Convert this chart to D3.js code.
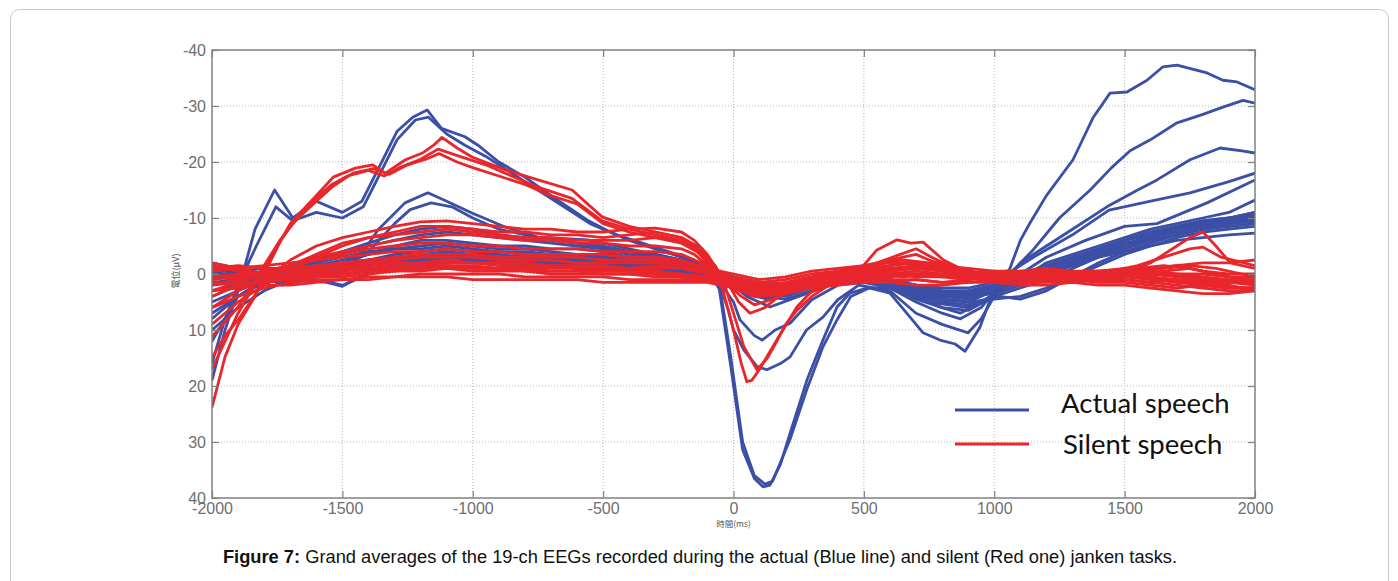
<!DOCTYPE html>
<html>
<head>
<meta charset="utf-8">
<script src="https://cdn.jsdelivr.net/npm/d3@7"></script>
<style>
  body { margin: 0; background: #fff; }
  svg { display: block; }
</style>
</head>
<body>
<svg id="chart" width="1398" height="581"></svg>
<script>
// tick values
const xTicks = [-2000, -1500, -1000, -500, 0, 500, 1000, 1500, 2000]
const yTicks = [-40, -30, -20, -10, 0, 10, 20, 30, 40]

// 19 channels, actual speech (blue) - [time ms, potential uV]
const actual = [
  [[-2000,19],[-1950,10],[-1900,3],[-1835,-8],[-1760,-15],[-1690,-10],[-1600,-13],[-1500,-11],[-1425,-13],[-1360,-19],[-1290,-25.5],[-1230,-28],[-1175,-29.3],[-1120,-26],[-1030,-24.5],[-980,-23],[-900,-20],[-800,-17.3],[-690,-13.7],[-560,-9.6],[-490,-7.9],[-400,-6],[-300,-4.5],[-200,-3],[-100,-1.5],[-60,1],[-10,16.6],[35,31.4],[80,36.5],[113,38],[140,37.7],[180,34],[217,28.4],[282,18.9],[343,11.8],[397,5.9],[447,3.4],[512,2.5],[600,2.5],[700,5],[800,7],[870,8],[950,6],[1020,2],[1060,-1],[1100,-6],[1137,-9.1],[1200,-14],[1302,-20.4],[1380,-28],[1444,-32.3],[1509,-32.5],[1586,-34.6],[1647,-37],[1701,-37.3],[1816,-35.9],[1877,-34.6],[1931,-34.3],[2000,-32.9]],
  [[-2000,16],[-1950,8],[-1900,2],[-1830,-5],[-1755,-12],[-1690,-9.5],[-1600,-11],[-1500,-10],[-1420,-12],[-1360,-17.5],[-1290,-24],[-1220,-27.5],[-1170,-28],[-1100,-25],[-1030,-23],[-950,-21],[-850,-18],[-750,-15],[-650,-12],[-550,-9],[-450,-7],[-350,-5.5],[-250,-4],[-150,-2.5],[-90,0],[-50,3],[-10,15],[35,30],[80,36],[120,37.5],[150,37],[217,29.5],[282,20.5],[343,13],[397,8.2],[450,4],[520,2.5],[600,3.4],[677,7.7],[727,10.5],[792,11.8],[850,12.5],[888,13.8],[945,9.5],[984,4.6],[1040,1],[1080,-1],[1149,-4.3],[1250,-10],[1368,-15],[1450,-19],[1521,-22],[1600,-24],[1701,-27],[1800,-28.5],[1877,-29.8],[1954,-31],[2000,-30.5]],
  [[-2000,12],[-1950,8],[-1900,4],[-1800,1],[-1700,0],[-1600,-1],[-1480,-2],[-1420,-4],[-1363,-7.9],[-1260,-12.7],[-1172,-14.5],[-1100,-13],[-1003,-10.9],[-876,-8.4],[-750,-6.6],[-558,-6.1],[-400,-4.5],[-250,-3],[-100,-1.5],[-60,1],[-20,6.4],[0,10],[40,13.6],[90,16.5],[128,17.1],[180,16],[217,14.8],[280,10],[343,7.7],[400,4.6],[480,2],[600,3],[700,7],[800,9],[900,10.5],[950,8],[1000,4],[1050,1],[1100,-2],[1200,-5],[1300,-8],[1432,-12],[1550,-15],[1624,-16.8],[1751,-20.4],[1866,-22.5],[1950,-22],[2000,-21.6]],
  [[-2000,8],[-1900,4],[-1800,1],[-1700,-0.5],[-1600,-1],[-1480,-1.5],[-1400,-4],[-1300,-9],[-1240,-11.5],[-1160,-12.7],[-1080,-12],[-1000,-10],[-900,-8],[-750,-6.5],[-600,-5.5],[-450,-4.5],[-300,-3],[-150,-1.5],[-60,1],[0,5],[25,8.2],[80,11],[110,11.8],[160,10],[217,8.8],[300,4.6],[400,2],[500,1.5],[600,2],[750,5],[900,6],[1000,4],[1050,0],[1150,-3],[1300,-7],[1440,-11.4],[1600,-13],[1751,-14.5],[1900,-16.5],[2000,-18]],
  [[-2000,5],[-1900,3],[-1800,1],[-1700,-1],[-1600,-2.5],[-1500,-4],[-1400,-5.5],[-1300,-7],[-1200,-8],[-1100,-8.5],[-1000,-8],[-900,-7],[-800,-6.5],[-700,-6],[-600,-5.5],[-500,-5],[-400,-4],[-300,-3.5],[-200,-2.5],[-100,-1],[-50,0],[50,4],[140,5.9],[250,4],[400,1.5],[500,1],[600,2],[700,3.5],[800,4],[900,4],[1000,2],[1100,0],[1200,-3],[1350,-6],[1500,-8.5],[1624,-9],[1816,-12.7],[2000,-16.8]],
  [[-2000,2],[-1900,1.5],[-1800,0],[-1700,-1],[-1600,-2],[-1500,-3.5],[-1400,-5],[-1300,-6],[-1200,-7],[-1100,-7.5],[-1000,-7],[-900,-6.5],[-800,-6],[-700,-5.5],[-600,-5],[-500,-4.5],[-400,-3.5],[-300,-3],[-200,-2],[-100,-0.5],[-40,1],[40,3.5],[130,4.5],[250,3],[400,1],[500,0.5],[600,1.5],[700,4],[800,6],[870,7],[950,5],[1050,2],[1100,1],[1200,-2],[1400,-5],[1600,-8],[1800,-10],[1900,-11],[2000,-13.2]],
  [[-2000,-1],[-1900,0],[-1800,1],[-1700,0],[-1600,-1],[-1500,-2],[-1400,-3.5],[-1300,-5],[-1200,-6],[-1100,-6],[-1000,-5.5],[-900,-5],[-800,-5],[-700,-4.5],[-600,-4.5],[-500,-4],[-400,-3],[-300,-2.5],[-200,-1.5],[-100,0],[-30,1],[50,3],[150,3.5],[300,2],[450,0.5],[600,1.5],[700,3],[800,4.5],[900,5],[1000,3],[1100,1],[1200,-1],[1300,-2.5],[1400,-4],[1500,-6],[1600,-7.5],[1700,-8.5],[1800,-9.5],[1900,-10],[2000,-11]],
  [[-2000,3],[-1900,2],[-1800,0.5],[-1700,-0.5],[-1600,-1.5],[-1500,-2.5],[-1400,-3.5],[-1300,-4.5],[-1200,-5],[-1100,-5.5],[-1000,-5],[-900,-4.5],[-800,-4.5],[-700,-4],[-600,-3.5],[-500,-3.5],[-400,-3],[-300,-2],[-200,-1],[-100,0],[0,1],[80,2.5],[200,3],[350,1.5],[500,1],[600,2],[700,3.5],[800,5],[900,4],[1000,3],[1100,1.5],[1200,0],[1300,-2],[1400,-3.5],[1500,-5],[1600,-7],[1700,-8.5],[1800,-9.5],[1900,-10],[2000,-10.5]],
  [[-2000,7],[-1900,4],[-1800,1.5],[-1700,0],[-1600,-0.5],[-1500,-1.5],[-1400,-2.5],[-1300,-3.5],[-1200,-4],[-1100,-4.5],[-1000,-4],[-900,-4],[-800,-3.5],[-700,-3.5],[-600,-3],[-500,-3],[-400,-2.5],[-300,-2],[-200,-1],[-100,0],[0,1.5],[100,2],[250,2.5],[400,1],[550,1.5],[700,3],[850,4],[950,3],[1050,2],[1150,0],[1250,-1.5],[1350,-3],[1450,-4.5],[1550,-6],[1650,-7.5],[1750,-8.5],[1850,-9],[1950,-9.5],[2000,-10]],
  [[-2000,1],[-1900,0],[-1800,1],[-1700,1.5],[-1600,1],[-1500,2],[-1450,1],[-1400,-0.5],[-1300,-1.5],[-1200,-2.5],[-1100,-3],[-1000,-3],[-900,-2.5],[-800,-2.5],[-700,-2],[-600,-2],[-500,-1.5],[-400,-1.5],[-300,-1],[-200,0],[-100,0.5],[0,1],[100,2],[200,2],[300,1.5],[400,0.5],[500,0.5],[600,1],[700,2.5],[800,3.5],[900,3],[1000,2],[1100,1],[1200,-0.5],[1300,-2],[1400,-3.5],[1500,-5],[1600,-6.5],[1700,-7.5],[1800,-8.5],[1900,-9],[2000,-9.5]],
  [[-2000,-1],[-1900,-0.5],[-1800,0.5],[-1730,2],[-1650,1],[-1560,1.5],[-1500,2.2],[-1450,1],[-1400,0],[-1300,-1],[-1200,-2],[-1100,-2],[-1000,-2.5],[-900,-2],[-800,-2],[-700,-1.5],[-600,-1.5],[-500,-1],[-400,-1],[-300,-0.5],[-200,0],[-100,1],[0,2],[100,4],[200,4.5],[300,3],[400,1.5],[500,1],[600,2],[700,4.5],[800,6],[900,6.5],[960,5],[1020,4],[1100,4.5],[1200,3],[1300,0.5],[1400,-2],[1500,-4],[1600,-5.5],[1700,-7],[1800,-8],[1900,-9],[2000,-10]],
  [[-2000,4],[-1900,2],[-1800,0],[-1700,-1],[-1600,-1],[-1500,-1.5],[-1400,-2],[-1300,-2.5],[-1200,-3.5],[-1100,-4],[-1000,-3.5],[-900,-3.5],[-800,-3],[-700,-3],[-600,-3],[-500,-2.5],[-400,-2],[-300,-1.5],[-200,-1],[-100,0],[0,1.5],[100,3],[200,3.5],[300,2],[400,1],[500,1],[600,1.5],[700,2],[800,3],[900,3.5],[1000,2.5],[1100,1],[1200,-1],[1300,-3],[1400,-4.5],[1500,-6],[1600,-7.5],[1700,-8.5],[1800,-9],[1900,-10],[2000,-11]],
  [[-2000,0],[-1900,1],[-1800,1.5],[-1700,1],[-1600,0],[-1500,-0.5],[-1400,-1.5],[-1300,-2],[-1200,-2.5],[-1100,-2.5],[-1000,-2],[-900,-2],[-800,-1.5],[-700,-1.5],[-600,-1],[-500,-1],[-400,-0.5],[-300,0],[-200,0.5],[-100,1],[0,1.5],[100,2.5],[200,2.5],[300,1.5],[400,1],[500,1.5],[600,2.5],[700,4],[800,5],[900,5.5],[1000,4],[1100,2.5],[1200,1],[1300,-1],[1400,-3],[1500,-4.5],[1600,-6],[1700,-7],[1800,-8],[1900,-8.5],[2000,-9]],
  [[-2000,2],[-1900,0.5],[-1800,-0.5],[-1700,-1.5],[-1600,-2],[-1500,-3],[-1400,-4],[-1300,-4.5],[-1200,-4.5],[-1100,-5],[-1000,-4.5],[-900,-4],[-800,-4],[-700,-3.5],[-600,-3.5],[-500,-3],[-400,-2.5],[-300,-2],[-200,-1.5],[-100,-0.5],[0,0.5],[100,1.5],[200,2],[300,1.5],[400,0.5],[500,0],[600,1],[700,2],[800,2.5],[900,2.5],[1000,1.5],[1100,0],[1200,-1.5],[1300,-3],[1400,-4.5],[1500,-6],[1600,-7],[1700,-8],[1800,-9],[1900,-9.5],[2000,-10]],
  [[-2000,-2],[-1900,-1],[-1800,0],[-1700,0.5],[-1600,0],[-1500,-1],[-1400,-1.5],[-1300,-2],[-1200,-3],[-1100,-3.5],[-1000,-3.5],[-900,-3],[-800,-3],[-700,-2.5],[-600,-2.5],[-500,-2],[-400,-2],[-300,-1.5],[-200,-1],[-100,0],[0,1],[100,2.5],[200,3],[300,2],[400,1],[500,0.5],[600,1],[700,2],[800,3.5],[900,4],[1000,3.5],[1100,2],[1200,0],[1300,-1.5],[1400,-3],[1500,-4],[1600,-5],[1700,-6],[1800,-6.5],[1900,-7],[2000,-7.3]],
  [[-2000,1.5],[-1900,1],[-1800,0],[-1700,-0.5],[-1600,-1],[-1500,-1.5],[-1400,-2.5],[-1300,-3],[-1200,-3],[-1100,-3.5],[-1000,-3],[-900,-3],[-800,-2.5],[-700,-2.5],[-600,-2],[-500,-2],[-400,-1.5],[-300,-1],[-200,-0.5],[-100,0.5],[0,2],[100,3.5],[200,4],[300,2.5],[400,1.5],[500,1],[600,2],[700,3],[800,4],[900,4.5],[1000,3],[1100,1.5],[1200,-0.5],[1300,-2],[1400,-3.5],[1500,-5],[1600,-6.5],[1700,-8],[1800,-9],[1900,-9.5],[2000,-10.5]],
  [[-2000,0.5],[-1900,-0.5],[-1800,-1],[-1700,-1],[-1600,-1.5],[-1500,-2],[-1400,-2.5],[-1300,-3],[-1200,-3.5],[-1100,-3.5],[-1000,-3.5],[-900,-3],[-800,-3],[-700,-3],[-600,-2.5],[-500,-2.5],[-400,-2],[-300,-1.5],[-200,-1],[-100,0],[0,1],[100,2],[200,2],[300,1.5],[400,0.5],[500,0.5],[600,1.5],[700,2.5],[800,3.5],[900,3.5],[1000,2.5],[1100,1],[1200,-1],[1300,-2.5],[1400,-4],[1500,-5.5],[1600,-6.5],[1700,-7.5],[1800,-8.5],[1900,-9],[2000,-9.5]],
  [[-2000,10],[-1900,6],[-1800,3],[-1700,1],[-1600,0.5],[-1500,0],[-1400,-0.5],[-1300,-1],[-1200,-1.5],[-1100,-2],[-1000,-2],[-900,-2],[-800,-1.5],[-700,-1.5],[-600,-1.5],[-500,-1],[-400,-1],[-300,-0.5],[-200,0],[-100,0.5],[0,2],[100,3],[200,3],[300,2],[400,1],[500,1],[600,2.5],[700,3.5],[800,4.5],[900,5],[1000,4.5],[1100,4],[1200,2.5],[1300,0.5],[1400,-1.5],[1500,-3.5],[1600,-5],[1700,-6.5],[1800,-7.5],[1900,-8],[2000,-8.5]],
  [[-2000,-0.5],[-1900,0.5],[-1800,1],[-1700,0.5],[-1600,-0.5],[-1500,-1],[-1400,-2],[-1300,-2.5],[-1200,-2.5],[-1100,-3],[-1000,-2.5],[-900,-2.5],[-800,-2],[-700,-2],[-600,-2],[-500,-1.5],[-400,-1.5],[-300,-1],[-200,-0.5],[-100,0],[0,1.5],[100,3],[200,3],[300,2],[400,1],[500,1],[600,1.5],[700,2.5],[800,3],[900,3],[1000,2],[1100,1],[1200,-0.5],[1300,-2],[1400,-3.5],[1500,-5],[1600,-6],[1700,-7],[1800,-8],[1900,-8.5],[2000,-9]]
]

// 19 channels, silent speech (red)
const silent = [
  [[-2000,23.8],[-1950,14.8],[-1900,9],[-1835,4],[-1800,0],[-1735,-6.1],[-1700,-9],[-1640,-12],[-1580,-15],[-1535,-17.3],[-1450,-18.9],[-1385,-19.5],[-1335,-18],[-1258,-20.4],[-1193,-21.6],[-1150,-23],[-1118,-24.4],[-1060,-22.5],[-1003,-20.9],[-876,-18.6],[-750,-16.8],[-619,-15],[-504,-10.2],[-400,-8.5],[-300,-7.5],[-200,-6.5],[-120,-4.5],[-80,-1],[-40,3],[0,10],[30,16],[51,19.2],[70,19],[100,17],[166,11.8],[243,5.9],[293,3.4],[350,2],[450,1],[550,0],[650,0.5],[750,0],[850,0.5],[950,0],[1050,-0.5],[1150,0],[1250,-0.5],[1350,0.5],[1450,0],[1550,0.5],[1650,1],[1750,1.5],[1850,2],[1950,2.5],[2000,2.5]],
  [[-2000,17],[-1950,12],[-1900,7],[-1850,3],[-1800,-1],[-1750,-5],[-1700,-8.5],[-1650,-11],[-1600,-13.5],[-1540,-16],[-1480,-17.5],[-1400,-18.5],[-1340,-17.5],[-1280,-19],[-1200,-20.5],[-1133,-22.3],[-1050,-21],[-950,-19.5],[-876,-18],[-750,-15.5],[-620,-13.5],[-504,-9.5],[-400,-8],[-300,-7],[-200,-6],[-120,-4],[-70,-1.5],[-40,1],[0,7],[40,13],[90,17.1],[130,15],[166,12],[200,9],[243,6.5],[300,4],[400,1],[480,-0.5],[550,-4.3],[627,-6.1],[680,-5.5],[727,-5.7],[805,-2.5],[870,-1],[950,0],[1050,0.5],[1150,0],[1250,0.5],[1350,0],[1450,-0.5],[1550,-1],[1650,-1.5],[1750,-1],[1850,0],[1950,1],[2000,1.5]],
  [[-2000,11.2],[-1900,5.9],[-1800,-1.5],[-1740,-6],[-1680,-9.5],[-1600,-13],[-1540,-15.5],[-1460,-18],[-1380,-18.8],[-1320,-17.8],[-1250,-19.5],[-1180,-20.5],[-1130,-21.5],[-1060,-20],[-1000,-19],[-900,-17.5],[-800,-16],[-700,-14],[-600,-12.5],[-500,-9],[-400,-7.5],[-300,-6.5],[-200,-5.5],[-120,-3.5],[-70,-1],[-30,1],[20,5],[63,7],[120,6],[200,3],[300,1],[400,0],[450,0],[550,-2],[640,-3.5],[700,-4.5],[760,-3],[850,-1],[950,0],[1050,0],[1150,0.5],[1250,0],[1350,-0.5],[1450,-0.5],[1550,-1],[1600,-2],[1700,-5],[1750,-6.5],[1800,-7.5],[1850,-5],[1905,-2],[2000,-1]],
  [[-2000,15],[-1950,11],[-1900,8.2],[-1823,2.9],[-1780,0.5],[-1700,-2.5],[-1600,-5],[-1500,-6.5],[-1400,-7.5],[-1300,-8.5],[-1200,-9.3],[-1100,-9.5],[-1000,-9],[-900,-8.5],[-800,-8],[-700,-8],[-600,-7.5],[-500,-7.5],[-400,-8],[-300,-8.2],[-200,-7.5],[-150,-6],[-100,-3.5],[-60,-0.5],[-20,2],[30,4],[80,5.5],[150,4.5],[250,2.5],[350,1],[450,0],[550,-1.5],[600,-2.5],[650,-3],[700,-3.5],[750,-2.5],[850,-1],[950,0],[1050,0],[1150,0],[1250,0.5],[1350,0],[1450,-0.5],[1550,-1.5],[1650,-3],[1750,-4.5],[1800,-4.8],[1870,-3],[2000,-1.5]],
  [[-2000,9],[-1900,5],[-1800,2],[-1700,-0.5],[-1600,-3],[-1500,-5],[-1400,-6.5],[-1300,-7.5],[-1200,-8.5],[-1100,-8.5],[-1000,-8],[-900,-7.5],[-800,-7.5],[-700,-7],[-600,-7],[-500,-6.5],[-400,-7],[-300,-7.5],[-200,-6.5],[-150,-5],[-100,-2.5],[-60,0],[0,2.5],[60,3.5],[150,3],[250,1.5],[350,0.5],[450,-0.5],[550,-1],[650,-2],[750,-1.5],[850,-0.5],[950,0],[1050,-0.5],[1150,0],[1250,0],[1350,0.5],[1450,0],[1550,0],[1650,-0.5],[1750,-1],[1850,0],[1950,1],[2000,1]],
  [[-2000,6],[-1900,3],[-1800,1],[-1700,-1.5],[-1600,-3.5],[-1500,-5.5],[-1400,-6.5],[-1300,-7],[-1200,-7.5],[-1100,-8],[-1000,-7.5],[-900,-7],[-800,-6.5],[-700,-6.5],[-600,-6],[-500,-6],[-400,-6],[-300,-6.5],[-200,-6],[-150,-4.5],[-100,-2],[-50,0],[0,2],[80,3],[150,2.5],[250,1],[350,0],[450,-1],[550,-2],[650,-2.5],[750,-2],[850,-1],[950,0],[1050,0.5],[1150,0],[1250,-0.5],[1350,0],[1450,0.5],[1550,0],[1650,0],[1750,0.5],[1850,1],[1950,1.5],[2000,2]],
  [[-2000,3],[-1900,1.5],[-1800,0],[-1700,-1.5],[-1600,-3],[-1500,-4],[-1400,-5],[-1300,-6],[-1200,-6.5],[-1100,-7],[-1000,-7],[-900,-6.5],[-800,-6],[-700,-6],[-600,-5.5],[-500,-5.5],[-400,-5],[-300,-5],[-200,-4.5],[-150,-3.5],[-100,-1.5],[-50,0.5],[0,2.5],[80,4],[150,3.5],[250,2],[350,1],[450,0],[550,-0.5],[650,-1],[750,-1],[850,0],[950,0.5],[1050,0],[1150,-0.5],[1250,0],[1350,0.5],[1450,0],[1550,-0.5],[1650,-1],[1750,-1.5],[1850,-1],[1950,0],[2000,0.5]],
  [[-2000,1],[-1900,0.5],[-1800,-0.5],[-1700,-1.5],[-1600,-2.5],[-1500,-3.5],[-1400,-4.5],[-1300,-5],[-1200,-5.5],[-1100,-5.5],[-1000,-5],[-900,-5],[-800,-4.5],[-700,-4.5],[-600,-4.5],[-500,-4],[-400,-4],[-300,-4],[-200,-3.5],[-100,-1.5],[-50,0],[0,1.5],[100,2.5],[200,2],[300,1],[400,0],[500,-0.5],[600,-1],[700,-1.5],[800,-1],[900,0],[1000,0],[1100,0.5],[1200,0],[1300,-0.5],[1400,0],[1500,0.5],[1600,0],[1700,0.5],[1800,1],[1900,1.5],[2000,2]],
  [[-2000,4],[-1900,2],[-1800,1],[-1700,0],[-1600,-1],[-1500,-1.5],[-1400,-2],[-1300,-2.5],[-1200,-3],[-1100,-3],[-1000,-3],[-900,-2.5],[-800,-2.5],[-700,-2.5],[-600,-2],[-500,-2],[-400,-2],[-300,-2],[-200,-1.5],[-100,-0.5],[0,1],[100,2],[200,1.5],[300,0.5],[400,0],[500,-0.5],[600,-0.5],[700,-1],[800,-0.5],[900,0],[1000,0.5],[1100,0],[1200,0],[1300,0.5],[1400,0],[1500,-0.5],[1600,0],[1700,0],[1800,0.5],[1900,1],[2000,1]],
  [[-2000,-1],[-1900,-1.5],[-1800,-1],[-1700,-0.5],[-1600,-1],[-1500,-1.5],[-1400,-1.5],[-1300,-2],[-1200,-2],[-1100,-2.5],[-1000,-2],[-900,-2],[-800,-2],[-700,-1.5],[-600,-1.5],[-500,-1.5],[-400,-1],[-300,-1],[-200,-1],[-100,0],[0,1.5],[100,3],[200,2.5],[300,1.5],[400,0.5],[500,0],[600,0],[700,-0.5],[800,0],[900,0.5],[1000,0],[1100,-0.5],[1200,0],[1300,0],[1400,0.5],[1500,0],[1600,0.5],[1700,1],[1800,1],[1900,1.5],[2000,1.5]],
  [[-2000,0.5],[-1900,0],[-1800,0.5],[-1700,1],[-1600,0.5],[-1500,0],[-1400,-0.5],[-1300,-1],[-1200,-1],[-1100,-1.5],[-1000,-1.5],[-900,-1],[-800,-1],[-700,-1],[-600,-1],[-500,-0.5],[-400,-0.5],[-300,-0.5],[-200,0],[-100,0.5],[0,2],[100,3.5],[200,3],[300,2],[400,1],[500,0.5],[600,0.5],[700,0],[800,0.5],[900,1],[1000,0.5],[1100,0],[1200,0.5],[1300,1],[1400,0.5],[1500,0],[1600,0.5],[1700,1.5],[1800,2],[1900,2.5],[2000,2.5]],
  [[-2000,2],[-1900,1],[-1800,-0.5],[-1700,-1],[-1600,-1.5],[-1500,-2],[-1400,-2.5],[-1300,-3],[-1200,-3.5],[-1100,-3.5],[-1000,-3.5],[-900,-3],[-800,-3],[-700,-3],[-600,-3],[-500,-2.5],[-400,-2.5],[-300,-2.5],[-200,-2],[-100,-1],[0,0.5],[100,1.5],[200,1],[300,0],[400,-0.5],[500,-1],[600,-1.5],[700,-2],[800,-1],[900,-0.5],[1000,0],[1100,0],[1200,-0.5],[1300,0],[1400,0],[1500,-0.5],[1600,-0.5],[1700,0],[1800,0],[1900,0.5],[2000,0.5]],
  [[-2000,-2],[-1900,-1],[-1800,0],[-1700,0.5],[-1600,0],[-1500,-0.5],[-1400,-1],[-1300,-1.5],[-1200,-1.5],[-1100,-2],[-1000,-2],[-900,-1.5],[-800,-1.5],[-700,-1.5],[-600,-1],[-500,-1],[-400,-1],[-300,-1.5],[-200,-1],[-100,-0.5],[0,1],[100,2],[200,2],[300,1],[400,0.5],[500,0],[600,0],[700,0.5],[800,0.5],[900,0],[1000,-0.5],[1100,0],[1200,0.5],[1300,0.5],[1400,1],[1500,0.5],[1600,1],[1700,1.5],[1800,1.5],[1900,2],[2000,3]],
  [[-2000,1.5],[-1900,2],[-1800,1.5],[-1700,1],[-1600,0.5],[-1500,0.5],[-1400,0],[-1300,-0.5],[-1200,-0.5],[-1100,-1],[-1000,-0.5],[-900,-0.5],[-800,-0.5],[-700,0],[-600,0],[-500,0],[-400,0],[-300,0.5],[-200,0.5],[-100,0.5],[0,1.5],[100,2.5],[200,2],[300,1.5],[400,1],[500,0.5],[600,1],[700,1],[800,1.5],[900,1],[1000,0.5],[1100,1],[1200,1],[1300,1.5],[1400,1],[1500,1],[1600,1.5],[1700,2],[1800,2.5],[1900,3],[2000,3]],
  [[-2000,-0.5],[-1900,-1],[-1800,-1.5],[-1700,-2],[-1600,-2.5],[-1500,-3],[-1400,-3.5],[-1300,-4],[-1200,-4],[-1100,-4.5],[-1000,-4],[-900,-4],[-800,-3.5],[-700,-3.5],[-600,-3.5],[-500,-3.5],[-400,-3],[-300,-3],[-200,-2.5],[-100,-1],[0,0],[100,1],[200,0.5],[300,-0.5],[400,-1],[500,-1.5],[600,-2],[700,-2],[800,-1.5],[900,-1],[1000,-0.5],[1100,-0.5],[1200,-1],[1300,-0.5],[1400,-0.5],[1500,-1],[1600,-1],[1700,-1.5],[1800,-0.5],[1900,0],[2000,0]],
  [[-2000,6],[-1900,4],[-1800,2.5],[-1700,1.5],[-1600,1],[-1500,1],[-1400,0.5],[-1300,0.5],[-1200,0],[-1100,0],[-1000,0],[-900,0],[-800,0.5],[-700,0.5],[-600,0.5],[-500,0.5],[-400,1],[-300,1],[-200,1],[-100,1],[0,2],[100,3],[200,2.5],[300,2],[400,1.5],[500,1],[600,1.5],[700,1],[800,1.5],[900,1.5],[1000,1],[1100,1.5],[1200,1.5],[1300,1],[1400,1.5],[1500,1.5],[1600,2],[1700,2.5],[1800,2],[1900,2.5],[2000,2.5]],
  [[-2000,0],[-1900,1],[-1800,2],[-1700,2],[-1600,1.5],[-1500,1],[-1400,1],[-1300,0.5],[-1200,0.5],[-1100,0.5],[-1000,1],[-900,1],[-800,1],[-700,1],[-600,1],[-500,1.5],[-400,1.5],[-300,1.5],[-200,1.5],[-100,1.5],[0,2.5],[100,4],[200,3.5],[300,2.5],[400,2],[500,1.5],[600,1.5],[700,2],[800,2],[900,1.5],[1000,1.5],[1100,2],[1200,2],[1300,1.5],[1400,2],[1500,2],[1600,2.5],[1700,3],[1800,3.5],[1900,3.5],[2000,3]],
  [[-2000,-1.5],[-1900,-0.5],[-1800,0],[-1700,0],[-1600,-0.5],[-1500,-1],[-1400,-1],[-1300,-1],[-1200,-1.5],[-1100,-1.5],[-1000,-1],[-900,-1],[-800,-1],[-700,-0.5],[-600,-0.5],[-500,-0.5],[-400,-0.5],[-300,0],[-200,0],[-100,0.5],[0,1.5],[100,2.5],[200,2],[300,1],[400,0.5],[500,0],[600,-0.5],[700,-1],[800,-0.5],[900,0],[1000,0.5],[1100,0.5],[1200,0],[1300,0],[1400,-0.5],[1500,-0.5],[1600,-1],[1700,-1.5],[1800,-2],[1900,-2],[2000,-2.5]],
  [[-2000,3],[-1900,2.5],[-1800,1],[-1700,0.5],[-1600,0],[-1500,0],[-1400,-0.5],[-1300,-0.5],[-1200,-1],[-1100,-1],[-1000,-1],[-900,-1],[-800,-0.5],[-700,-0.5],[-600,-0.5],[-500,0],[-400,0],[-300,0],[-200,0.5],[-100,1],[0,2],[100,3],[200,2.5],[300,1.5],[400,1],[500,0.5],[600,0],[700,0],[800,0.5],[900,0.5],[1000,1],[1100,0.5],[1200,1],[1300,1],[1400,0.5],[1500,1],[1600,1.5],[1700,1],[1800,1.5],[1900,1.5],[2000,1.5]]
]

const legendItems = ['Actual speech', 'Silent speech']
const blue = '#3c4fa6', red = '#e8262b'

const svg = d3.select('#chart')

// figure frame
svg.append('rect').attr('x', 10.5).attr('y', 9.5).attr('width', 1378).attr('height', 620)
  .attr('rx', 9).attr('fill', 'none').attr('stroke', '#c9c9c9')

var margin = {left: 212, top: 50, right: 1255, bottom: 498}

var x = d3.scaleLinear().domain([-2000, 2000]).range([margin.left, margin.right])
var y = d3.scaleLinear().domain([-40, 40]).range([margin.top, margin.bottom])

// dotted grid
svg.append('g').selectAll('line').data(xTicks.slice(1, -1)).join('line')
  .attr('x1', d => x(d)).attr('x2', d => x(d)).attr('y1', margin.top).attr('y2', margin.bottom)
  .attr('stroke', '#b5b5b5').attr('stroke-dasharray', '1,2')
svg.append('g').selectAll('line').data(yTicks.slice(1, -1)).join('line')
  .attr('y1', d => y(d)).attr('y2', d => y(d)).attr('x1', margin.left).attr('x2', margin.right)
  .attr('stroke', '#b5b5b5').attr('stroke-dasharray', '1,2')

svg.append('clipPath').attr('id', 'plot').append('rect')
  .attr('x', margin.left).attr('y', margin.top)
  .attr('width', margin.right - margin.left).attr('height', margin.bottom - margin.top)

const line = d3.line().x(d => x(d[0])).y(d => y(d[1]))

const traces = svg.append('g').attr('clip-path', 'url(#plot)')
traces.selectAll('path.actual').data(actual).join('path').attr('class', 'actual')
  .attr('d', line).attr('fill', 'none').attr('stroke', blue).attr('stroke-width', 2.8)
  .attr('stroke-linejoin', 'round')
traces.selectAll('path.silent').data(silent).join('path').attr('class', 'silent')
  .attr('d', line).attr('fill', 'none').attr('stroke', red).attr('stroke-width', 2.8)
  .attr('stroke-linejoin', 'round')

// axes, matlab style box with inward ticks
const fmt = d => String(d)
function styleAxis(g) {
  g.select('.domain').remove()
  g.selectAll('.tick line').attr('stroke', '#808080').attr('stroke-width', 1.2)
  g.selectAll('.tick text').attr('fill', '#6e6e6e').style('font', '16px "Liberation Sans", Arial, sans-serif')
}
svg.append('g').attr('transform', `translate(${margin.left},0)`)
  .call(d3.axisLeft(y).tickValues(yTicks).tickSize(-7).tickPadding(6).tickFormat(fmt)).call(styleAxis)
svg.append('g').attr('transform', `translate(${margin.right},0)`)
  .call(d3.axisRight(y).tickValues(yTicks).tickSize(-7).tickFormat('')).call(styleAxis)
svg.append('g').attr('transform', `translate(0,${margin.bottom})`)
  .call(d3.axisBottom(x).tickValues(xTicks).tickSize(-7).tickPadding(5).tickFormat(fmt)).call(styleAxis)
svg.append('g').attr('transform', `translate(0,${margin.top})`)
  .call(d3.axisTop(x).tickValues(xTicks).tickSize(-7).tickFormat('')).call(styleAxis)

svg.append('rect').attr('x', margin.left).attr('y', margin.top)
  .attr('width', margin.right - margin.left).attr('height', margin.bottom - margin.top)
  .attr('fill', 'none').attr('stroke', '#808080').attr('stroke-width', 1.5)

// axis labels
svg.append('text').attr('transform', 'translate(179,271)rotate(-90)')
  .attr('text-anchor', 'middle').attr('fill', '#555')
  .style('font', '9px "Noto Sans CJK JP", sans-serif').text('電位(μV)')
svg.append('text').attr('x', x(0)).attr('y', 527)
  .attr('text-anchor', 'middle').attr('fill', '#555')
  .style('font', '8.5px "Noto Sans CJK JP", sans-serif').text('時間(ms)')

// legend
const legend = svg.append('g').selectAll('g').data(legendItems).join('g')
  .attr('transform', (d, i) => `translate(0,${410 + i * 34})`)
legend.append('line').attr('x1', 955).attr('x2', 1029).attr('y1', 0).attr('y2', 0)
  .attr('stroke', (d, i) => i ? red : blue).attr('stroke-width', 3)
legend.append('text').attr('x', (d, i) => 1061 + i * 2).attr('y', (d, i) => 3 + i * 7)
  .attr('fill', '#111').style('font', '27.5px Lato, "Open Sans", sans-serif').text(d => d)

// caption
const cap = svg.append('text').attr('x', 700).attr('y', 563).attr('text-anchor', 'middle')
  .attr('fill', '#111').style('font', '18.3px "Liberation Sans", Arial, sans-serif')
cap.append('tspan').attr('font-weight', 'bold').text('Figure 7:')
cap.append('tspan').text(' Grand averages of the 19-ch EEGs recorded during the actual (Blue line) and silent (Red one) janken tasks.')
</script>
</body>
</html>
